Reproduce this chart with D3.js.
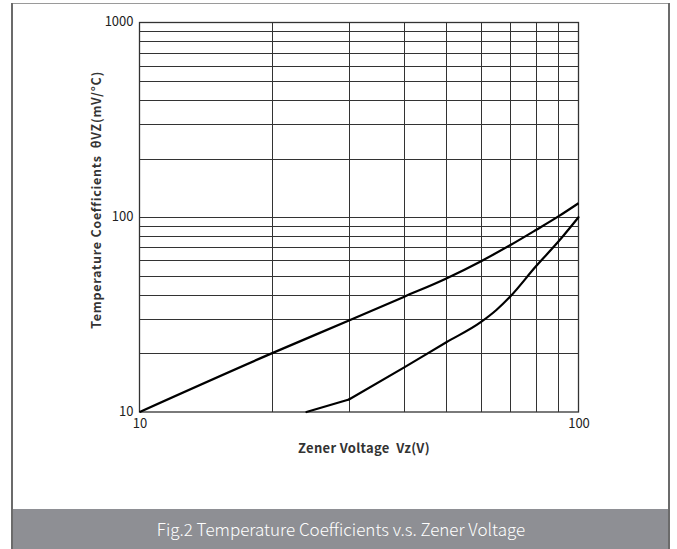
<!DOCTYPE html>
<html>
<head>
<meta charset="utf-8">
<script src="https://cdn.jsdelivr.net/npm/d3@7/dist/d3.min.js"></script>
<style>
  html, body { margin: 0; padding: 0; background: #fff; }
  svg { display: block; }
</style>
</head>
<body>
<svg id="chart" width="677" height="549"></svg>
<script>
// ---- data ----
const xTickLabels = [10, 100];
const yTickLabels = [10, 100, 1000];
const xGrid = [20, 30, 40, 50, 60, 70, 80, 90];
const yGrid = [20, 30, 40, 50, 60, 70, 80, 90, 200, 300, 400, 500, 600, 700, 800, 900];
const upperVz = [10, 20, 30, 40, 50, 60, 70, 80, 90, 100];
const upperTc = [10, 20, 29.5, 39, 48.5, 59.5, 72, 86, 101, 118];
const lowerVz = [24, 30, 40, 50, 60, 65, 70, 80, 90, 100];
const lowerTc = [10, 11.6, 16.9, 22.8, 29, 33.4, 39.3, 56, 75, 100];
const xTitle = "Zener Voltage  Vz(V)";
const yTitle = "Temperature Coefficients  θVZ(mV/°C)";
const caption = "Fig.2 Temperature Coefficients v.s. Zener Voltage";

const W = 677, H = 549;
const plot = { left: 139.5, right: 578.5, top: 22.5, bottom: 412 };
const FONT = "'Noto Sans CJK SC', 'Noto Sans', sans-serif";

const svg = d3.select("#chart");

// outer frame
svg.append("line").attr("x1", 12).attr("x2", 669).attr("y1", 3.5).attr("y2", 3.5)
  .attr("stroke", "#9a9a9a").attr("stroke-width", 1);
svg.append("line").attr("x1", 12).attr("x2", 12).attr("y1", 3).attr("y2", H)
  .attr("stroke", "#6b6b6b").attr("stroke-width", 2);
svg.append("line").attr("x1", 669).attr("x2", 669).attr("y1", 3).attr("y2", H)
  .attr("stroke", "#6b6b6b").attr("stroke-width", 2);

// caption bar
svg.append("rect").attr("x", 13).attr("y", 509).attr("width", 655).attr("height", H - 509)
  .attr("fill", "#8e8f94");
svg.append("text").attr("x", 341).attr("y", 536)
  .attr("text-anchor", "middle")
  .attr("font-family", FONT)
  .attr("font-size", 17).attr("font-weight", 300)
  .attr("fill", "#ffffff")
  .text(caption);

const x = d3.scaleLog().domain([10, 100]).range([plot.left, plot.right]);
const y = d3.scaleLog().domain([10, 1000]).range([plot.bottom, plot.top]);

const g = svg.append("g");

// grid
g.selectAll(".vg").data(xGrid).join("line")
  .attr("x1", d => Math.round(x(d)) + 0.5).attr("x2", d => Math.round(x(d)) + 0.5)
  .attr("y1", plot.top).attr("y2", plot.bottom)
  .attr("stroke", "#333").attr("stroke-width", 1);
g.selectAll(".hg").data(yGrid.concat([100])).join("line")
  .attr("y1", d => Math.round(y(d)) + 0.5).attr("y2", d => Math.round(y(d)) + 0.5)
  .attr("x1", plot.left).attr("x2", plot.right)
  .attr("stroke", "#333").attr("stroke-width", 1);

// frame of plot
g.append("rect")
  .attr("x", plot.left).attr("y", plot.top)
  .attr("width", plot.right - plot.left).attr("height", plot.bottom - plot.top)
  .attr("fill", "none").attr("stroke", "#333").attr("stroke-width", 1.3);

// tick labels via d3 axes
const xAxis = d3.axisBottom(x).tickValues(xTickLabels).tickFormat(d3.format("d")).tickSize(0).tickPadding(5);
const yAxis = d3.axisLeft(y).tickValues(yTickLabels).tickFormat(d3.format("d")).tickSize(0).tickPadding(6);

const gx = svg.append("g").attr("transform", `translate(0,${plot.bottom})`).call(xAxis);
const gy = svg.append("g").attr("transform", `translate(${plot.left},0)`).call(yAxis);
[gx, gy].forEach(a => {
  a.select(".domain").remove();
  a.selectAll("text")
    .attr("font-family", FONT)
    .attr("font-size", 13)
    .attr("fill", "#222");
});
gx.selectAll("text").attr("dy", "0.85em");
gy.selectAll("text").attr("dy", "0.25em");

// curves
const upper = upperVz.map((v, i) => [v, upperTc[i]]);
const lower = lowerVz.map((v, i) => [v, lowerTc[i]]);
const smooth = d3.line().x(d => x(d[0])).y(d => y(d[1])).curve(d3.curveMonotoneX);
const straight = d3.line().x(d => x(d[0])).y(d => y(d[1])).curve(d3.curveLinear);

g.append("path").datum(upper).attr("d", smooth)
  .attr("fill", "none").attr("stroke", "#000").attr("stroke-width", 2.2);
// lower curve: straight first segment (kink at 30 V), smooth afterwards
g.append("path").datum(lower.slice(0, 2)).attr("d", straight)
  .attr("fill", "none").attr("stroke", "#000").attr("stroke-width", 2.2)
  .attr("stroke-linecap", "round");
g.append("path").datum(lower.slice(1)).attr("d", smooth)
  .attr("fill", "none").attr("stroke", "#000").attr("stroke-width", 2.2)
  .attr("stroke-linecap", "round");

// titles
svg.append("text").attr("x", 364).attr("y", 453)
  .attr("text-anchor", "middle")
  .attr("font-family", FONT)
  .attr("font-size", 13).attr("font-weight", 700)
  .attr("letter-spacing", 0.3)
  .attr("fill", "#333")
  .style("white-space", "pre")
  .text(xTitle);

svg.append("text")
  .attr("transform", "translate(101,200) rotate(-90)")
  .attr("text-anchor", "middle")
  .attr("font-family", FONT)
  .attr("font-size", 12.5).attr("font-weight", 700)
  .attr("letter-spacing", 0.75)
  .attr("fill", "#333")
  .style("white-space", "pre")
  .text(yTitle);
</script>
</body>
</html>
